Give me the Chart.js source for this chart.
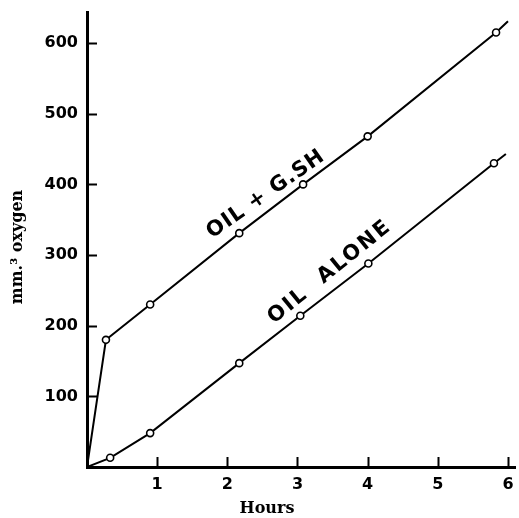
<!DOCTYPE html>
<html>
<head>
<meta charset="utf-8">
<script src="https://cdn.jsdelivr.net/npm/chart.js@4"></script>
<style>
  body { margin: 0; background: #fff; }
  canvas { display: block; }
</style>
</head>
<body>
<canvas id="grafico" width="519" height="518"></canvas>
<script>
// Valores (horas, mm3 de oxigenio)
const horasGsh = [0, 0.27, 0.9, 2.17, 3.08, 4.0, 5.83, 6.0];
const oxigenioGsh = [0, 180, 230, 331, 400, 468, 615, 631];
const horasSozinho = [0, 0.33, 0.9, 2.17, 3.04, 4.01, 5.8, 5.97];
const oxigenioSozinho = [0, 13, 48, 147, 214, 288, 430, 443];

const ticksX = [1, 2, 3, 4, 5, 6];
const ticksY = [100, 200, 300, 400, 500, 600];

const nomeGsh = 'OIL + G.SH';
const nomeSozinho = 'OIL  ALONE';

function juntar(xs, ys) {
    let pontos = [];
    for (let i = 0; i < xs.length; i++) {
        pontos.push({ x: xs[i], y: ys[i] });
    }
    return pontos;
}

// primeiro ponto (origem) e o prolongamento da reta ficam sem circulo
function raios(n) {
    let r = [];
    for (let i = 0; i < n; i++) r.push(i == 0 || i == n - 1 ? 0 : 3.5);
    return r;
}

const estiloLinha = {
    borderColor: '#000',
    borderWidth: 2,
    backgroundColor: '#fff',
    pointBorderColor: '#000',
    pointBackgroundColor: '#fff',
    pointBorderWidth: 1.6,
    tension: 0,
    fill: false
};

// marcas dos eixos para dentro, titulos e rotulos das retas
const extras = {
    id: 'extras',
    afterDraw(chart) {
        const ctx = chart.ctx;
        const x = chart.scales.x;
        const y = chart.scales.y;
        ctx.save();
        ctx.strokeStyle = '#000';
        ctx.lineWidth = 2;
        ctx.beginPath();
        ticksY.forEach(v => {
            const py = Math.round(y.getPixelForValue(v)) + 0.5;
            ctx.moveTo(x.left, py);
            ctx.lineTo(x.left + 10, py);
        });
        ticksX.forEach(v => {
            const px = Math.round(x.getPixelForValue(v)) + 0.5;
            ctx.moveTo(px, y.bottom);
            ctx.lineTo(px, y.bottom - 10);
        });
        ctx.stroke();

        ctx.fillStyle = '#000';
        ctx.font = 'bold 16px "DejaVu Serif"';
        ctx.textAlign = 'center';
        ctx.textBaseline = 'middle';
        ctx.fillText('Hours', 267, 509);

        ctx.save();
        ctx.translate(18, 247);
        ctx.rotate(-Math.PI / 2);
        ctx.fillText('mm.³ oxygen', 0, 0);
        ctx.restore();

        ctx.font = 'bold 21px "DejaVu Sans"';
        const rotulos = [
            { texto: nomeGsh, hx: 2.55, oy: 386, ang: -35, esp: '1px' },
            { texto: nomeSozinho, hx: 3.46, oy: 276, ang: -39, esp: '2px' }
        ];
        rotulos.forEach(r => {
            ctx.save();
            ctx.letterSpacing = r.esp;
            ctx.translate(x.getPixelForValue(r.hx), y.getPixelForValue(r.oy));
            ctx.rotate(r.ang * Math.PI / 180);
            ctx.fillText(r.texto, 0, 0);
            ctx.restore();
        });
        ctx.restore();
    }
};

const config = {
    type: 'line',
    data: {
        datasets: [
            Object.assign({ label: nomeGsh, data: juntar(horasGsh, oxigenioGsh), pointRadius: raios(horasGsh.length) }, estiloLinha),
            Object.assign({ label: nomeSozinho, data: juntar(horasSozinho, oxigenioSozinho), pointRadius: raios(horasSozinho.length) }, estiloLinha)
        ]
    },
    options: {
        responsive: false,
        animation: false,
        layout: { padding: { top: 12, right: 4, left: 0, bottom: 0 } },
        plugins: {
            legend: { display: false },
            tooltip: { enabled: false }
        },
        scales: {
            x: {
                type: 'linear',
                min: 0,
                max: 6.1,
                afterFit: s => { s.height = 51; s.paddingLeft = 0; s.paddingRight = 0; },
                afterBuildTicks: s => { s.ticks = ticksX.map(v => ({ value: v })); },
                grid: { drawOnChartArea: false, drawTicks: false },
                border: { display: true, color: '#000', width: 3 },
                ticks: {
                    color: '#000',
                    padding: 8,
                    maxRotation: 0,
                    font: { family: 'DejaVu Sans', size: 16, weight: 'bold' }
                }
            },
            y: {
                type: 'linear',
                min: 0,
                max: 644,
                afterFit: s => { s.width = 87; s.paddingTop = 0; s.paddingBottom = 0; },
                afterBuildTicks: s => { s.ticks = ticksY.map(v => ({ value: v })); },
                grid: { drawOnChartArea: false, drawTicks: false },
                border: { display: true, color: '#000', width: 3 },
                ticks: {
                    color: '#000',
                    padding: 9,
                    font: { family: 'DejaVu Sans', size: 16, weight: 'bold' }
                }
            }
        }
    },
    plugins: [extras]
};

let meuGrafico = new Chart(document.getElementById('grafico'), config);
</script>
</body>
</html>
